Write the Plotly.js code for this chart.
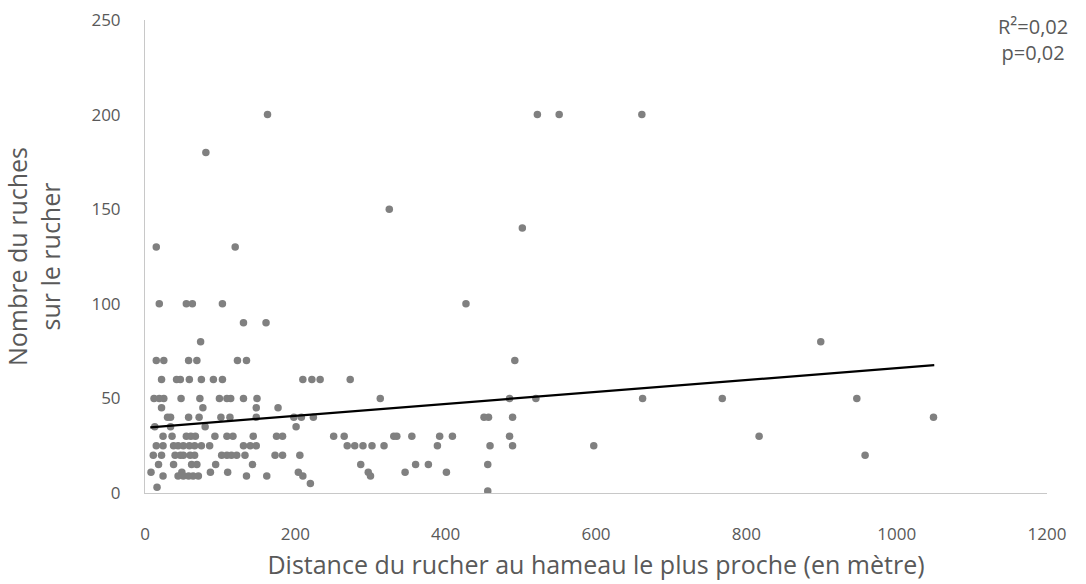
<!DOCTYPE html>
<html>
<head>
<meta charset="utf-8">
<script src="https://cdn.plot.ly/plotly-3.0.1.min.js"></script>
<style>html,body{margin:0;padding:0;background:#fff;}#chart{width:1086px;height:584px;}</style>
</head>
<body>
<div id="chart"></div>
<script>
// Distance du rucher au hameau le plus proche (m)
const distance = [
  163, 522, 551, 661,
  81,
  325,
  502,
  15, 120,
  19, 55, 63, 103, 427,
  131, 161,
  74, 899,
  15, 25, 58, 69, 123, 135, 492,
  22, 42, 47, 59, 75, 91, 103, 210, 222, 233, 273,
  12, 19, 25, 48, 73, 99, 109, 114, 131, 149, 313, 485, 520, 662, 768, 947,
  22, 77, 148, 177,
  30, 34, 58, 72, 101, 113, 148, 198, 208, 224, 451, 457, 489, 1049,
  13, 34, 80, 201,
  24, 36, 55, 61, 67, 93, 109, 117, 144, 175, 183, 251, 265, 331, 335, 355, 392, 409, 485, 817,
  15, 24, 38, 44, 51, 59, 66, 75, 86, 131, 140, 148, 269, 279, 290, 302, 318, 389, 459, 489, 597,
  11, 22, 40, 47, 51, 60, 66, 102, 109, 115, 122, 133, 173, 183, 206, 958,
  18, 38, 62, 69, 94, 143, 287, 360, 377, 456,
  8, 49, 87, 110, 204, 297, 346, 401,
  24, 44, 51, 58, 64, 71, 135, 162, 210, 300,
  220, 16,
  456
];
// Nombre de ruches sur le rucher
const ruches = [
  200, 200, 200, 200,
  180,
  150,
  140,
  130, 130,
  100, 100, 100, 100, 100,
  90, 90,
  80, 80,
  70, 70, 70, 70, 70, 70, 70,
  60, 60, 60, 60, 60, 60, 60, 60, 60, 60, 60,
  50, 50, 50, 50, 50, 50, 50, 50, 50, 50, 50, 50, 50, 50, 50, 50,
  45, 45, 45, 45,
  40, 40, 40, 40, 40, 40, 40, 40, 40, 40, 40, 40, 40, 40,
  35, 35, 35, 35,
  30, 30, 30, 30, 30, 30, 30, 30, 30, 30, 30, 30, 30, 30, 30, 30, 30, 30, 30, 30,
  25, 25, 25, 25, 25, 25, 25, 25, 25, 25, 25, 25, 25, 25, 25, 25, 25, 25, 25, 25, 25,
  20, 20, 20, 20, 20, 20, 20, 20, 20, 20, 20, 20, 20, 20, 20, 20,
  15, 15, 15, 15, 15, 15, 15, 15, 15, 15,
  11, 11, 11, 11, 11, 11, 11, 11,
  9, 9, 9, 9, 9, 9, 9, 9, 9, 9,
  5, 3,
  1
];
// Linear trend line endpoints
const trendX = [7, 1050];
const trendY = [34.7, 67.6];
const xTicks = [0, 200, 400, 600, 800, 1000, 1200];
const yTicks = [0, 50, 100, 150, 200, 250];
const statsText = "R²=0,02<br>p=0,02";

const FONT = "Open Sans, Segoe UI, sans-serif";
const GREY = "#595959";

const traces = [
  {
    x: distance, y: ruches, type: "scatter", mode: "markers",
    marker: {color: "#808080", size: 7.5},
    hoverinfo: "x+y", showlegend: false
  },
  {
    x: trendX, y: trendY, type: "scatter", mode: "lines",
    line: {color: "#000000", width: 2.2},
    hoverinfo: "skip", showlegend: false
  }
];

const layout = {
  width: 1086, height: 584,
  margin: {l: 145, r: 39, t: 20, b: 91},
  paper_bgcolor: "#ffffff", plot_bgcolor: "#ffffff",
  font: {family: FONT, color: GREY, size: 17},
  showlegend: false,
  xaxis: {
    range: [0, 1200], tickvals: xTicks, ticktext: xTicks.map(String),
    showgrid: false, zeroline: false,
    showline: true, linecolor: "#c8c8c8", linewidth: 1,
    ticks: "", ticklabelstandoff: 26,
    tickfont: {family: FONT, size: 17, color: GREY},
    title: {text: "Distance du rucher au hameau le plus proche (en mètre)",
            font: {family: FONT, size: 25, color: GREY}, standoff: 12},
    automargin: false
  },
  yaxis: {
    range: [0, 250], tickvals: yTicks, ticktext: yTicks.map(String),
    showgrid: false, zeroline: false,
    showline: true, linecolor: "#c8c8c8", linewidth: 1,
    ticks: "", ticklabelstandoff: 20,
    tickfont: {family: FONT, size: 17, color: GREY},
    title: {text: "Nombre du ruches<br>sur le rucher",
            font: {family: FONT, size: 25, color: GREY}, standoff: 28},
    automargin: false
  },
  annotations: [{
    text: statsText, xref: "paper", yref: "paper", x: 1, y: 1,
    xanchor: "center", yanchor: "top", xshift: -14, yshift: 9,
    showarrow: false, align: "center",
    font: {family: FONT, size: 20, color: GREY}
  }]
};

Plotly.newPlot("chart", traces, layout, {displayModeBar: false, staticPlot: true});
</script>
</body>
</html>
